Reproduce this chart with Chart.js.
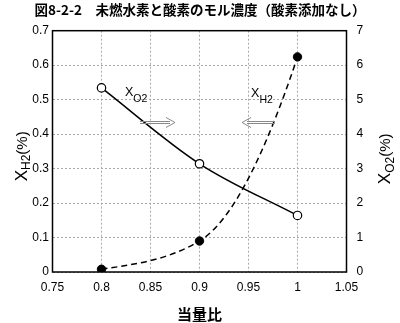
<!DOCTYPE html>
<html><head><meta charset="utf-8">
<script src="https://cdn.jsdelivr.net/npm/chart.js@4"></script>
<style>html,body{margin:0;padding:0;background:#fff}#wrap{width:400px;height:323px}</style>
</head><body><div id="wrap"><canvas id="c" width="400" height="323"></canvas></div>
<script>
// ---- data ----
const equivalenceRatio = [0.8, 0.9, 1.0];
const h2Values = [0.008, 0.090, 0.624];   // X_H2 (%) - left axis
const o2Values = [5.34, 3.14, 1.64];      // X_O2 (%) - right axis
const h2Slopes = [0.43, 1.7, 8.5];        // curve tangents (%/unit)
const xTickValues = [0.75, 0.8, 0.85, 0.9, 0.95, 1, 1.05];
const xTickLabels = ['0.75', '0.8', '0.85', '0.9', '0.95', '1', '1.05'];
const leftTickValues = [0, 0.1, 0.2, 0.3, 0.4, 0.5, 0.6, 0.7];
const leftTickLabels = ['0', '0.1', '0.2', '0.3', '0.4', '0.5', '0.6', '0.7'];
const rightTickValues = [0, 1, 2, 3, 4, 5, 6, 7];
const rightTickLabels = ['0', '1', '2', '3', '4', '5', '6', '7'];
const chartTitle = '図8-2-2　未燃水素と酸素のモル濃度（酸素添加なし）';
const xTitle = '当量比';

// annotation placement (data coordinates, left axis)
const seriesLabels = [
  {main: 'X', sub: 'O2', x: 0.824, y: 0.511},
  {main: 'X', sub: 'H2', x: 0.9526, y: 0.508}
];
const arrows = [
  {from: 0.8393, to: 0.875, y: 0.4357},
  {from: 0.977, to: 0.9434, y: 0.4357}
];

const LAT = '"Liberation Sans", Arial, sans-serif';
const CJK = '"Noto Sans CJK JP", sans-serif';

function tickSetter(vals) {
  return function(scale) { scale.ticks = vals.map(v => ({value: v})); };
}

const curvePlugin = {
  id: 'h2curve',
  beforeDatasetsDraw(chart) {
    const meta = chart.getDatasetMeta(0);
    const xs = chart.scales.x, ys = chart.scales.y;
    const ratio = (ys.getPixelForValue(1) - ys.getPixelForValue(0)) / (xs.getPixelForValue(1) - xs.getPixelForValue(0));
    const pts = meta.data;
    for (let i = 0; i < pts.length; i++) {
      const p = pts[i];
      const m = h2Slopes[i] * ratio;
      if (i > 0) {
        const dx = (p.x - pts[i - 1].x) / 3;
        p.cp1x = p.x - dx; p.cp1y = p.y - m * dx;
      } else { p.cp1x = p.x; p.cp1y = p.y; }
      if (i < pts.length - 1) {
        const dx = (pts[i + 1].x - p.x) / 3;
        p.cp2x = p.x + dx; p.cp2y = p.y + m * dx;
      } else { p.cp2x = p.x; p.cp2y = p.y; }
    }
    meta.dataset._pointsUpdated = true;
    meta.dataset._path = undefined;
  }
};

function drawSubText(ctx, parts) {
  let x = 0;
  for (const p of parts) {
    ctx.font = (p.weight || '') + ' ' + p.size + 'px ' + LAT;
    ctx.fillText(p.t, x, p.dy);
    x += ctx.measureText(p.t).width;
  }
  return x;
}
function measureParts(ctx, parts) {
  let w = 0;
  for (const p of parts) { ctx.font = (p.weight || '') + ' ' + p.size + 'px ' + LAT; w += ctx.measureText(p.t).width; }
  return w;
}

const framePlugin = {
  id: 'frame',
  beforeDatasetsDraw(chart) {
    const {ctx, chartArea: a} = chart;
    ctx.save();
    ctx.strokeStyle = '#000';
    ctx.lineWidth = 1.5;
    ctx.strokeRect(a.left, a.top, a.right - a.left, a.bottom - a.top);
    ctx.restore();
  },
  afterDraw(chart) {
    const {ctx, chartArea: a} = chart;
    const xs = chart.scales.x, ys = chart.scales.y;
    ctx.save();
    ctx.fillStyle = '#000';
    ctx.textBaseline = 'alphabetic';
    const leftParts = [{t: 'X', size: 17, dy: 0}, {t: 'H2', size: 12, dy: 3}, {t: '(%)', size: 15, dy: 0}];
    const rightParts = [{t: 'X', size: 17, dy: 0}, {t: 'O2', size: 12, dy: 4}, {t: '(%)', size: 15, dy: 0}];
    const cy = (a.top + a.bottom) / 2;
    let w = measureParts(ctx, leftParts);
    ctx.save();
    ctx.translate(a.left - 26, cy + 5 + w / 2);
    ctx.rotate(-Math.PI / 2);
    drawSubText(ctx, leftParts);
    ctx.restore();
    w = measureParts(ctx, rightParts);
    ctx.save();
    ctx.translate(a.right + 43.5, cy + 7.5 + w / 2);
    ctx.rotate(-Math.PI / 2);
    drawSubText(ctx, rightParts);
    ctx.restore();
    for (const l of seriesLabels) {
      const px = xs.getPixelForValue(l.x), py = ys.getPixelForValue(l.y);
      ctx.save();
      ctx.translate(px, py);
      drawSubText(ctx, [{t: l.main, size: 12.5, dy: 0}, {t: l.sub, size: 10.5, dy: 6}]);
      ctx.restore();
    }
    ctx.strokeStyle = '#8a8a8a';
    ctx.lineWidth = 1;
    for (const ar of arrows) {
      const x1 = xs.getPixelForValue(ar.from), x2 = xs.getPixelForValue(ar.to), y = Math.round(ys.getPixelForValue(ar.y)) + 0.5;
      const dir = Math.sign(x2 - x1);
      ctx.beginPath();
      ctx.moveTo(x1, y - 1); ctx.lineTo(x2 - dir * 5, y - 1);
      ctx.moveTo(x1, y + 1); ctx.lineTo(x2 - dir * 5, y + 1);
      ctx.moveTo(x2 - dir * 9, y - 5); ctx.lineTo(x2, y); ctx.lineTo(x2 - dir * 9, y + 5);
      ctx.stroke();
    }
    ctx.restore();
  }
};

new Chart(document.getElementById('c'), {
  type: 'line',
  data: {
    labels: equivalenceRatio,
    datasets: [
      {
        label: 'X_H2',
        data: equivalenceRatio.map((x, i) => ({x: x, y: h2Values[i]})),
        yAxisID: 'y',
        borderColor: '#000', borderWidth: 1.5, borderDash: [6, 4],
        pointRadius: 4.2, pointBackgroundColor: '#000', pointBorderColor: '#000', pointBorderWidth: 1,
        cubicInterpolationMode: 'monotone', fill: false
      },
      {
        label: 'X_O2',
        data: equivalenceRatio.map((x, i) => ({x: x, y: o2Values[i]})),
        yAxisID: 'y2',
        borderColor: '#000', borderWidth: 1.5,
        pointRadius: 4.2, pointBackgroundColor: '#fff', pointBorderColor: '#000', pointBorderWidth: 1.2,
        cubicInterpolationMode: 'monotone', fill: false
      }
    ]
  },
  options: {
    responsive: false,
    devicePixelRatio: 1,
    animation: false,
    layout: {padding: {left: 0, right: 0, top: 0, bottom: 0}},
    plugins: {
      legend: {display: false},
      tooltip: {enabled: false},
      title: {
        display: true, text: chartTitle, color: '#000',
        font: {family: CJK, size: 13.5, weight: 'bold', lineHeight: 1.2},
        padding: {top: 2, bottom: 12.5}
      }
    },
    scales: {
      x: {
        type: 'linear', min: 0.75, max: 1.05,
        afterBuildTicks: tickSetter(xTickValues),
        afterFit(s) { s.height = 51; },
        ticks: {
          color: '#000', font: {family: LAT, size: 12}, padding: 8, maxRotation: 0, autoSkip: false,
          callback: (v) => xTickLabels[xTickValues.findIndex(t => Math.abs(t - v) < 1e-9)]
        },
        grid: {color: '#a8a8a8', lineWidth: 1, drawTicks: false, tickLength: 0},
        border: {display: false, dash: [2, 2]},
        title: {display: true, text: xTitle, color: '#000', font: {family: CJK, size: 15, weight: 'bold', lineHeight: 1.2}, padding: {top: 7, bottom: 0}}
      },
      y: {
        type: 'linear', position: 'left', min: 0, max: 0.7,
        afterBuildTicks: tickSetter(leftTickValues),
        afterFit(s) { s.width = 52.5; },
        ticks: {
          color: '#000', font: {family: LAT, size: 12}, padding: 3.5,
          callback: (v) => leftTickLabels[leftTickValues.findIndex(t => Math.abs(t - v) < 1e-9)]
        },
        grid: {color: '#a8a8a8', lineWidth: 1, drawTicks: false, tickLength: 0},
        border: {display: false, dash: [2, 2]}
      },
      y2: {
        type: 'linear', position: 'right', min: 0, max: 7,
        afterBuildTicks: tickSetter(rightTickValues),
        afterFit(s) { s.width = 53.5; },
        ticks: {
          color: '#000', font: {family: LAT, size: 12}, padding: 10,
          callback: (v) => rightTickLabels[rightTickValues.findIndex(t => Math.abs(t - v) < 1e-9)]
        },
        grid: {display: false, drawTicks: false},
        border: {display: false}
      }
    }
  },
  plugins: [curvePlugin, framePlugin]
});
</script>
</body></html>
